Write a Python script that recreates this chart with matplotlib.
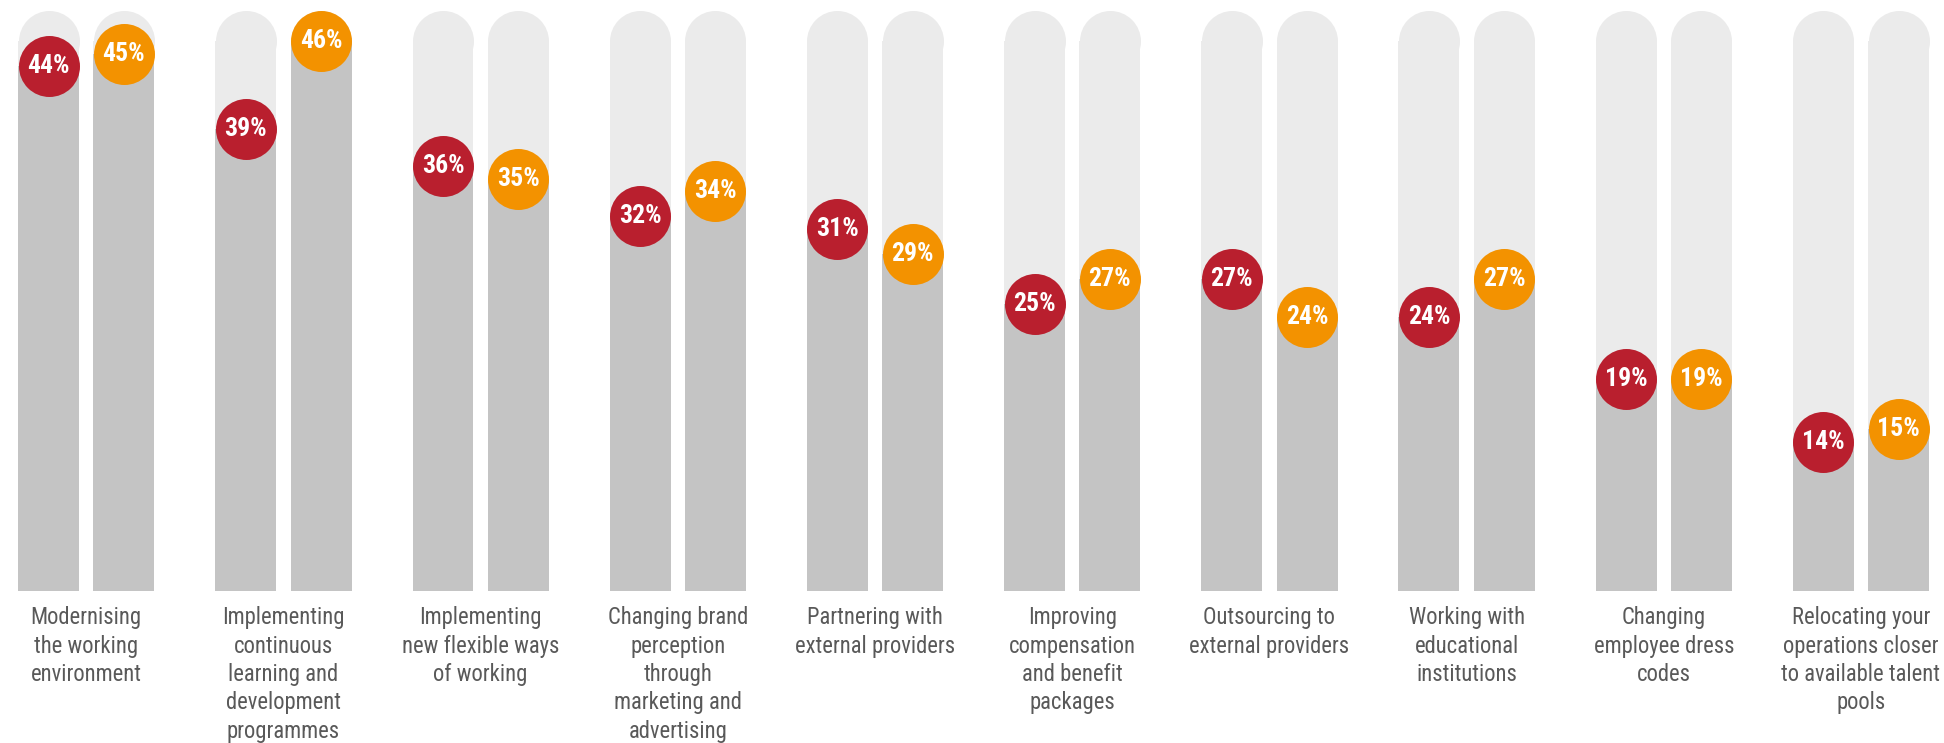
import matplotlib.pyplot as plt
import numpy as np

categories = [
    "Modernising\nthe working\nenvironment",
    "Implementing\ncontinuous\nlearning and\ndevelopment\nprogrammes",
    "Implementing\nnew flexible ways\nof working",
    "Changing brand\nperception\nthrough\nmarketing and\nadvertising",
    "Partnering with\nexternal providers",
    "Improving\ncompensation\nand benefit\npackages",
    "Outsourcing to\nexternal providers",
    "Working with\neducational\ninstitutions",
    "Changing\nemployee dress\ncodes",
    "Relocating your\noperations closer\nto available talent\npools",
]
red_values = [44, 39, 36, 32, 31, 25, 27, 24, 19, 14]
orange_values = [45, 46, 35, 34, 29, 27, 24, 27, 19, 15]

fam = ['Roboto Condensed', 'Fira Sans Condensed', 'Liberation Sans', 'DejaVu Sans']

track_c = '#ebebeb'
bar_c = '#c4c4c4'
red_c = '#b91f2e'
orange_c = '#f39200'

fig = plt.figure(figsize=(19.44, 7.43), dpi=100)
ax = fig.add_axes([0, 1 - 591 / 743, 1, 591 / 743])
ax.set_xlim(-0.4374, 9.421)
ax.set_ylim(2.1, 49.28)
ax.axis('off')

x = np.arange(len(categories))
off = 0.191
w = 0.309
top = max(red_values + orange_values)
dot = (61 * 72 / 100) ** 2

for xs, vals, col in [(x - off, red_values, red_c), (x + off, orange_values, orange_c)]:
    # light track with round cap
    ax.bar(xs, [top] * len(xs), width=w, color=track_c, zorder=1)
    ax.scatter(xs, [top] * len(xs), s=dot, color=track_c, linewidths=0, zorder=1, clip_on=False)
    ax.bar(xs, vals, width=w, color=bar_c, zorder=2)
    ax.scatter(xs, vals, s=dot, color=col, linewidths=0, zorder=3, clip_on=False)
    for xi, v in zip(xs, vals):
        ax.text(xi, v, f"{v}%", ha='center', va='center', color='white',
                fontsize=18.5, fontweight='bold', family=fam, zorder=4)

for xi, lab in zip(x, categories):
    ax.annotate(lab, xy=(xi, 0), xycoords=('data', 'axes fraction'),
                xytext=(0, -11), textcoords='offset points',
                ha='center', va='top', fontsize=16.3, color='#595959',
                family=fam, linespacing=1.3, annotation_clip=False)

fig.savefig('out.png', dpi=100)
